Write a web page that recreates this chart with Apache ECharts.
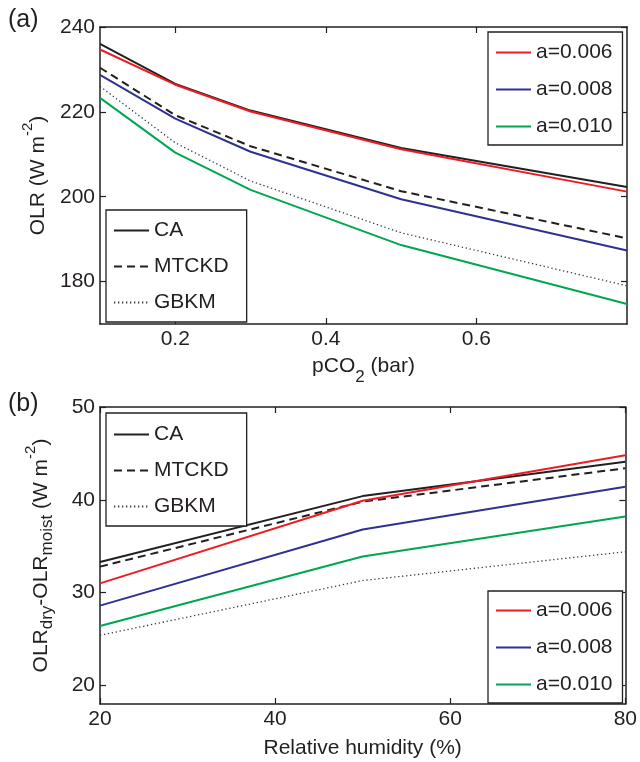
<!DOCTYPE html>
<html>
<head>
<meta charset="utf-8">
<script src="https://cdn.jsdelivr.net/npm/echarts@6/dist/echarts.min.js"></script>
<style>
  html, body { margin: 0; padding: 0; background: #fff; }
  #chart { width: 640px; height: 762px; }
</style>
</head>
<body>
<div id="chart"></div>
<script>
// Panel (a): outgoing longwave radiation versus CO2 partial pressure
const pco2 = [0.1, 0.2, 0.3, 0.5, 0.8];
const olrCA = [236.0, 226.6, 220.3, 211.5, 202.3];
const olrMTCKD = [230.4, 219.2, 211.9, 201.3, 190.2];
const olrGBKM = [226.0, 212.7, 203.7, 191.5, 179.0];
const olrA006 = [234.7, 226.4, 220.1, 211.2, 201.2];
const olrA008 = [228.7, 218.4, 210.6, 199.4, 187.3];
const olrA010 = [223.3, 210.4, 201.6, 188.6, 174.7];

// Panel (b): dry minus moist OLR versus relative humidity
const humidity = [20, 50, 80];
const diffCA = [33.3, 40.4, 44.1];
const diffMTCKD = [32.8, 39.8, 43.4];
const diffGBKM = [25.4, 31.3, 34.4];
const diffA006 = [31.0, 39.9, 44.8];
const diffA008 = [28.6, 36.8, 41.4];
const diffA010 = [26.4, 33.9, 38.2];

// Tick labels
const pco2Ticks = [0.2, 0.4, 0.6];
const olrTicks = [180, 200, 220, 240];
const humidityTicks = [20, 40, 60, 80];
const diffTicks = [20, 30, 40, 50];

const continuumNames = ['CA', 'MTCKD', 'GBKM'];
const coeffNames = ['a=0.006', 'a=0.008', 'a=0.010'];

const INK = '#231f20';
const FONT = 'Liberation Sans';
const RED = '#ed1c24';
const BLUE = '#2e3192';
const GREEN = '#00a651';

// Rich-text styles for axis titles with sub- and superscripts
const rich = {
  t: { fontSize: 21, fontFamily: FONT, color: INK, lineHeight: 36 },
  tt: { fontSize: 21, fontFamily: FONT, color: INK, lineHeight: 30, verticalAlign: 'top' },
  hi: { fontSize: 15, fontFamily: FONT, color: INK, verticalAlign: 'top' },
  lo: { fontSize: 17, fontFamily: FONT, color: INK, verticalAlign: 'bottom' },
  lo2: { fontSize: 17, fontFamily: FONT, color: INK, verticalAlign: 'bottom', padding: [0, 0, 3, 0] }
};

function baseAxis(gridIndex, position, min, max, ticks, showLabel, fmt) {
  return {
    type: 'value',
    gridIndex: gridIndex,
    position: position,
    min: min,
    max: max,
    splitLine: { show: false },
    axisLine: { show: true, onZero: false, lineStyle: { color: INK, width: 1.5 } },
    axisTick: { show: true, inside: true, length: 6, customValues: ticks, lineStyle: { color: INK, width: 1.2 } },
    axisLabel: {
      show: showLabel, customValues: ticks, margin: 5,
      fontSize: 21, fontFamily: FONT, color: INK,
      formatter: fmt || (v => String(v))
    }
  };
}

const xAxes = [
  Object.assign(baseAxis(0, 'bottom', 0.1, 0.8, pco2Ticks, true, v => v.toFixed(1)), {
    name: '{tt|pCO}{lo|2}{tt| (bar)}', nameLocation: 'middle', nameGap: 32,
    nameTextStyle: { rich: rich }
  }),
  baseAxis(0, 'top', 0.1, 0.8, pco2Ticks, false),
  Object.assign(baseAxis(1, 'bottom', 20, 80, humidityTicks, true), {
    name: '{t|Relative humidity (%)}', nameLocation: 'middle', nameGap: 26,
    nameTextStyle: { rich: rich }
  }),
  baseAxis(1, 'top', 20, 80, humidityTicks, false)
];

const yAxes = [
  Object.assign(baseAxis(0, 'left', 170, 240, olrTicks, true), {
    name: '{t|OLR (W m}{hi|-2}{t|)}', nameLocation: 'middle', nameGap: 41,
    nameTextStyle: { rich: rich }
  }),
  baseAxis(0, 'right', 170, 240, olrTicks, false),
  Object.assign(baseAxis(1, 'left', 18, 50, diffTicks, true), {
    name: '{t|OLR}{lo2|dry}{t|-OLR}{lo2|moist}{t| (W m}{hi|-2}{t|)}', nameLocation: 'middle', nameGap: 41,
    nameTextStyle: { rich: rich }
  }),
  baseAxis(1, 'right', 18, 50, diffTicks, false)
];

function pairs(xs, ys) {
  return xs.map((x, i) => [x, ys[i]]);
}

function lineSeries(name, xs, ys, panel, style) {
  return {
    type: 'line',
    name: name,
    xAxisIndex: panel * 2,
    yAxisIndex: panel * 2,
    data: pairs(xs, ys),
    symbol: 'none',
    smooth: false,
    animation: false,
    silent: true,
    itemStyle: { color: style.color },
    lineStyle: style
  };
}

const solidBlack = { color: INK, width: 2, type: 'solid' };
const dashedBlack = { color: INK, width: 2, type: [8, 5] };
const dottedGray = { color: '#3a3a3a', width: 1.3, type: [1.3, 2.7] };
const redLine = { color: RED, width: 2, type: 'solid' };
const blueLine = { color: BLUE, width: 2, type: 'solid' };
const greenLine = { color: GREEN, width: 2, type: 'solid' };

const series = [
  lineSeries('CA', pco2, olrCA, 0, solidBlack),
  lineSeries('MTCKD', pco2, olrMTCKD, 0, dashedBlack),
  lineSeries('GBKM', pco2, olrGBKM, 0, dottedGray),
  lineSeries('a=0.006', pco2, olrA006, 0, redLine),
  lineSeries('a=0.008', pco2, olrA008, 0, blueLine),
  lineSeries('a=0.010', pco2, olrA010, 0, greenLine),
  lineSeries('CA', humidity, diffCA, 1, solidBlack),
  lineSeries('MTCKD', humidity, diffMTCKD, 1, dashedBlack),
  lineSeries('GBKM', humidity, diffGBKM, 1, dottedGray),
  lineSeries('a=0.006', humidity, diffA006, 1, redLine),
  lineSeries('a=0.008', humidity, diffA008, 1, blueLine),
  lineSeries('a=0.010', humidity, diffA010, 1, greenLine)
];

function legendBox(names, left, top, padding, gap) {
  return {
    data: names,
    orient: 'vertical',
    left: left,
    top: top,
    padding: padding,
    itemGap: gap,
    itemWidth: 35,
    itemHeight: 20,
    selectedMode: false,
    backgroundColor: '#fff',
    borderColor: INK,
    borderWidth: 1.3,
    borderRadius: 0,
    itemStyle: { opacity: 0 },
    textStyle: { fontSize: 21, fontFamily: FONT, color: INK, lineHeight: 20 }
  };
}

const chart = echarts.init(document.getElementById('chart'), null, { renderer: 'canvas' });
chart.setOption({
  animation: false,
  backgroundColor: '#fff',
  grid: [
    { left: 100, right: 13, top: 27, height: 297 },
    { left: 100, right: 14, top: 407, height: 297 }
  ],
  xAxis: xAxes,
  yAxis: yAxes,
  legend: [
    legendBox(coeffNames, 488, 32, [10, 10, 8, 7], 16),
    legendBox(continuumNames, 106, 210, [10, 18, 9, 7], 15),
    legendBox(continuumNames, 106, 413, [11, 18, 9, 7], 15),
    legendBox(coeffNames, 488, 591, [9, 10, 8, 7], 16)
  ],
  graphic: [
    { type: 'text', left: 8, top: 8, style: { text: '(a)', fontSize: 25, fontFamily: FONT, fill: INK } },
    { type: 'text', left: 8, top: 392, style: { text: '(b)', fontSize: 25, fontFamily: FONT, fill: INK } }
  ],
  series: series
});
</script>
</body>
</html>
